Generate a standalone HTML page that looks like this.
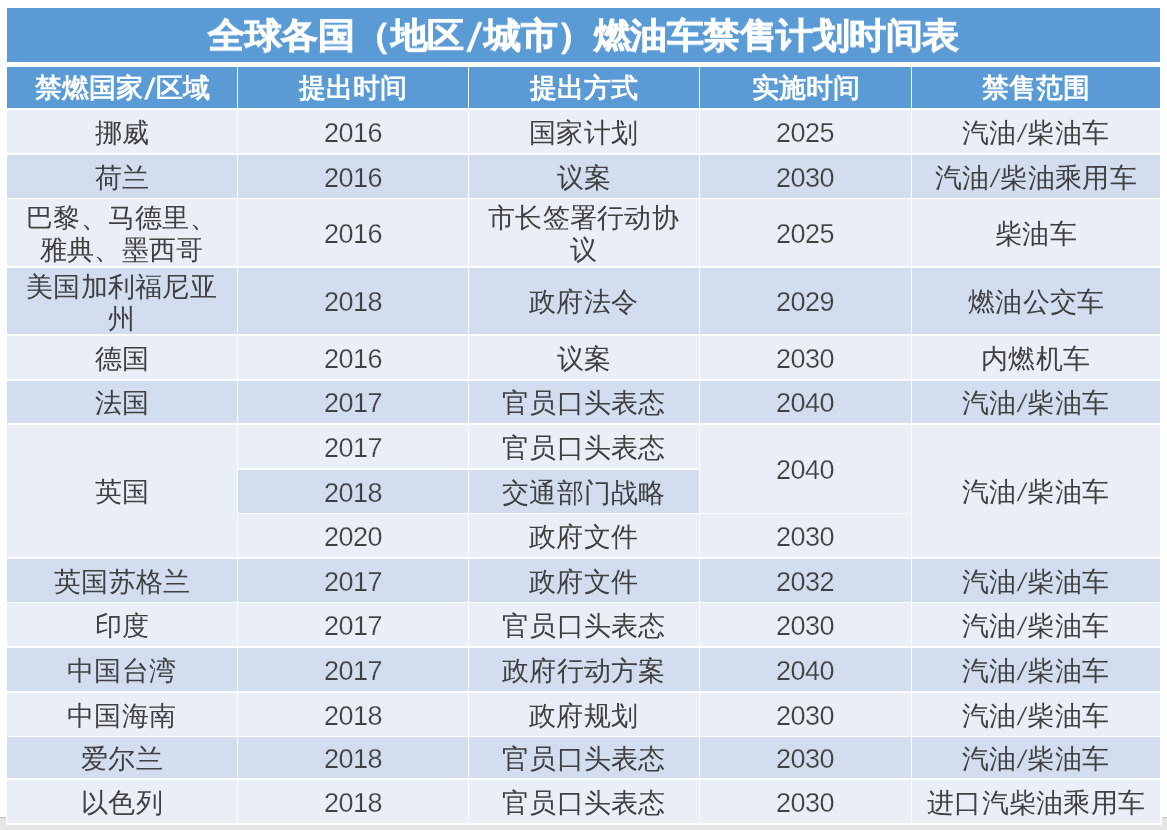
<!DOCTYPE html>
<html><head><meta charset="utf-8"><style>
html,body{margin:0;padding:0;}
span{will-change:transform;}
body{width:1167px;height:830px;position:relative;overflow:hidden;background:#fff;font-family:"Liberation Sans",sans-serif;}
.gray{position:absolute;left:0;top:817px;width:1167px;height:13px;background:#E5E5E5;border-top:1px solid #C4C4C4;box-sizing:border-box;}
.paper{position:absolute;left:6px;top:0;width:1156px;height:825px;background:#fff;}
.c,.h,.t{position:absolute;display:flex;align-items:center;justify-content:center;text-align:center;box-sizing:border-box;}
.c{color:#404040;font-size:27px;line-height:31.5px;padding-top:4px;letter-spacing:0.3px;}
.c i,.h i,.t i{font-style:normal;margin:0 1.5px;display:inline-block;transform:skewX(-11deg) scaleY(0.95);}
.c i{-webkit-text-stroke:0.3px var(--bg);}
.h i{margin:0 2.5px;transform:translateY(1px) skewX(-12deg) scaleY(1.1);}
.t i{margin:0 5.5px;transform:translateY(2px) skewX(-12deg) scaleY(1.15);-webkit-text-stroke:0;}
.d{letter-spacing:-0.5px;font-weight:normal;-webkit-text-stroke:0.25px var(--bg);position:relative;top:0px;}
.h{color:#fff;font-size:27px;font-weight:700;line-height:32px;}
.t{color:#fff;letter-spacing:-0.5px;font-size:37px;font-weight:700;-webkit-text-stroke:0.8px #fff;padding-top:2px;line-height:40px;}
.t span{display:inline-block;transform:scaleY(0.95);}
</style></head><body>
<div class="gray"></div>
<div class="paper"></div>
<div class="t" style="left:7px;top:8px;width:1153px;height:54px;--bg:#5B9BD5;background:#5B9BD5"><span>全球各国（地区<i>/</i>城市）燃油车禁售计划时间表</span></div>
<div class="h" style="left:7px;top:67px;width:230px;height:41px;--bg:#5B9BD5;background:#5B9BD5"><span>禁燃国家<i>/</i>区域</span></div>
<div class="h" style="left:238px;top:67px;width:230px;height:41px;--bg:#5B9BD5;background:#5B9BD5"><span>提出时间</span></div>
<div class="h" style="left:469px;top:67px;width:230px;height:41px;--bg:#5B9BD5;background:#5B9BD5"><span>提出方式</span></div>
<div class="h" style="left:700px;top:67px;width:211px;height:41px;--bg:#5B9BD5;background:#5B9BD5"><span>实施时间</span></div>
<div class="h" style="left:912px;top:67px;width:248px;height:41px;--bg:#5B9BD5;background:#5B9BD5"><span>禁售范围</span></div>
<div class="c" style="left:7px;top:110px;width:230px;height:43px;--bg:#EAEFF7;background:#EAEFF7"><span>挪威</span></div>
<div class="c" style="left:238px;top:110px;width:230px;height:43px;--bg:#EAEFF7;background:#EAEFF7"><span><b class="d" >2016</b></span></div>
<div class="c" style="left:469px;top:110px;width:230px;height:43px;--bg:#EAEFF7;background:#EAEFF7"><span>国家计划</span></div>
<div class="c" style="left:700px;top:110px;width:211px;height:43px;--bg:#EAEFF7;background:#EAEFF7"><span><b class="d" >2025</b></span></div>
<div class="c" style="left:912px;top:110px;width:248px;height:43px;--bg:#EAEFF7;background:#EAEFF7"><span>汽油<i>/</i>柴油车</span></div>
<div class="c" style="left:7px;top:155px;width:230px;height:43px;--bg:#D2DEEF;background:#D2DEEF"><span>荷兰</span></div>
<div class="c" style="left:238px;top:155px;width:230px;height:43px;--bg:#D2DEEF;background:#D2DEEF"><span><b class="d" >2016</b></span></div>
<div class="c" style="left:469px;top:155px;width:230px;height:43px;--bg:#D2DEEF;background:#D2DEEF"><span>议案</span></div>
<div class="c" style="left:700px;top:155px;width:211px;height:43px;--bg:#D2DEEF;background:#D2DEEF"><span><b class="d" >2030</b></span></div>
<div class="c" style="left:912px;top:155px;width:248px;height:43px;--bg:#D2DEEF;background:#D2DEEF"><span>汽油<i>/</i>柴油乘用车</span></div>
<div class="c" style="left:7px;top:199px;width:230px;height:67px;--bg:#EAEFF7;background:#EAEFF7"><span>巴黎、马德里、<br>雅典、墨西哥</span></div>
<div class="c" style="left:238px;top:199px;width:230px;height:67px;--bg:#EAEFF7;background:#EAEFF7"><span><b class="d" >2016</b></span></div>
<div class="c" style="left:469px;top:199px;width:230px;height:67px;--bg:#EAEFF7;background:#EAEFF7"><span>市长签署行动协<br>议</span></div>
<div class="c" style="left:700px;top:199px;width:211px;height:67px;--bg:#EAEFF7;background:#EAEFF7"><span><b class="d" >2025</b></span></div>
<div class="c" style="left:912px;top:199px;width:248px;height:67px;--bg:#EAEFF7;background:#EAEFF7"><span>柴油车</span></div>
<div class="c" style="left:7px;top:268px;width:230px;height:66px;--bg:#D2DEEF;background:#D2DEEF"><span>美国加利福尼亚<br>州</span></div>
<div class="c" style="left:238px;top:268px;width:230px;height:66px;--bg:#D2DEEF;background:#D2DEEF"><span><b class="d" >2018</b></span></div>
<div class="c" style="left:469px;top:268px;width:230px;height:66px;--bg:#D2DEEF;background:#D2DEEF"><span>政府法令</span></div>
<div class="c" style="left:700px;top:268px;width:211px;height:66px;--bg:#D2DEEF;background:#D2DEEF"><span><b class="d" >2029</b></span></div>
<div class="c" style="left:912px;top:268px;width:248px;height:66px;--bg:#D2DEEF;background:#D2DEEF"><span>燃油公交车</span></div>
<div class="c" style="left:7px;top:336px;width:230px;height:43px;--bg:#EAEFF7;background:#EAEFF7"><span>德国</span></div>
<div class="c" style="left:238px;top:336px;width:230px;height:43px;--bg:#EAEFF7;background:#EAEFF7"><span><b class="d" >2016</b></span></div>
<div class="c" style="left:469px;top:336px;width:230px;height:43px;--bg:#EAEFF7;background:#EAEFF7"><span>议案</span></div>
<div class="c" style="left:700px;top:336px;width:211px;height:43px;--bg:#EAEFF7;background:#EAEFF7"><span><b class="d" >2030</b></span></div>
<div class="c" style="left:912px;top:336px;width:248px;height:43px;--bg:#EAEFF7;background:#EAEFF7"><span>内燃机车</span></div>
<div class="c" style="left:7px;top:381px;width:230px;height:42px;--bg:#D2DEEF;background:#D2DEEF"><span>法国</span></div>
<div class="c" style="left:238px;top:381px;width:230px;height:42px;--bg:#D2DEEF;background:#D2DEEF"><span><b class="d" >2017</b></span></div>
<div class="c" style="left:469px;top:381px;width:230px;height:42px;--bg:#D2DEEF;background:#D2DEEF"><span>官员口头表态</span></div>
<div class="c" style="left:700px;top:381px;width:211px;height:42px;--bg:#D2DEEF;background:#D2DEEF"><span><b class="d" >2040</b></span></div>
<div class="c" style="left:912px;top:381px;width:248px;height:42px;--bg:#D2DEEF;background:#D2DEEF"><span>汽油<i>/</i>柴油车</span></div>
<div class="c" style="left:7px;top:425px;width:230px;height:132px;--bg:#EAEFF7;background:#EAEFF7"><span>英国</span></div>
<div class="c" style="left:238px;top:425px;width:230px;height:43px;--bg:#EAEFF7;background:#EAEFF7"><span><b class="d" >2017</b></span></div>
<div class="c" style="left:469px;top:425px;width:230px;height:43px;--bg:#EAEFF7;background:#EAEFF7"><span>官员口头表态</span></div>
<div class="c" style="left:238px;top:470px;width:230px;height:43px;--bg:#D2DEEF;background:#D2DEEF"><span><b class="d" >2018</b></span></div>
<div class="c" style="left:469px;top:470px;width:230px;height:43px;--bg:#D2DEEF;background:#D2DEEF"><span>交通部门战略</span></div>
<div class="c" style="left:238px;top:514px;width:230px;height:43px;--bg:#EAEFF7;background:#EAEFF7"><span><b class="d" >2020</b></span></div>
<div class="c" style="left:469px;top:514px;width:230px;height:43px;--bg:#EAEFF7;background:#EAEFF7"><span>政府文件</span></div>
<div class="c" style="left:700px;top:425px;width:211px;height:88px;--bg:#EAEFF7;background:#EAEFF7"><span><b class="d" >2040</b></span></div>
<div class="c" style="left:700px;top:514px;width:211px;height:43px;--bg:#EAEFF7;background:#EAEFF7"><span><b class="d" >2030</b></span></div>
<div class="c" style="left:912px;top:425px;width:248px;height:132px;--bg:#EAEFF7;background:#EAEFF7"><span>汽油<i>/</i>柴油车</span></div>
<div class="c" style="left:7px;top:559px;width:230px;height:43px;--bg:#D2DEEF;background:#D2DEEF"><span>英国苏格兰</span></div>
<div class="c" style="left:238px;top:559px;width:230px;height:43px;--bg:#D2DEEF;background:#D2DEEF"><span><b class="d" >2017</b></span></div>
<div class="c" style="left:469px;top:559px;width:230px;height:43px;--bg:#D2DEEF;background:#D2DEEF"><span>政府文件</span></div>
<div class="c" style="left:700px;top:559px;width:211px;height:43px;--bg:#D2DEEF;background:#D2DEEF"><span><b class="d" >2032</b></span></div>
<div class="c" style="left:912px;top:559px;width:248px;height:43px;--bg:#D2DEEF;background:#D2DEEF"><span>汽油<i>/</i>柴油车</span></div>
<div class="c" style="left:7px;top:603px;width:230px;height:43px;--bg:#EAEFF7;background:#EAEFF7"><span>印度</span></div>
<div class="c" style="left:238px;top:603px;width:230px;height:43px;--bg:#EAEFF7;background:#EAEFF7"><span><b class="d" >2017</b></span></div>
<div class="c" style="left:469px;top:603px;width:230px;height:43px;--bg:#EAEFF7;background:#EAEFF7"><span>官员口头表态</span></div>
<div class="c" style="left:700px;top:603px;width:211px;height:43px;--bg:#EAEFF7;background:#EAEFF7"><span><b class="d" >2030</b></span></div>
<div class="c" style="left:912px;top:603px;width:248px;height:43px;--bg:#EAEFF7;background:#EAEFF7"><span>汽油<i>/</i>柴油车</span></div>
<div class="c" style="left:7px;top:648px;width:230px;height:43px;--bg:#D2DEEF;background:#D2DEEF"><span>中国台湾</span></div>
<div class="c" style="left:238px;top:648px;width:230px;height:43px;--bg:#D2DEEF;background:#D2DEEF"><span><b class="d" >2017</b></span></div>
<div class="c" style="left:469px;top:648px;width:230px;height:43px;--bg:#D2DEEF;background:#D2DEEF"><span>政府行动方案</span></div>
<div class="c" style="left:700px;top:648px;width:211px;height:43px;--bg:#D2DEEF;background:#D2DEEF"><span><b class="d" >2040</b></span></div>
<div class="c" style="left:912px;top:648px;width:248px;height:43px;--bg:#D2DEEF;background:#D2DEEF"><span>汽油<i>/</i>柴油车</span></div>
<div class="c" style="left:7px;top:693px;width:230px;height:43px;--bg:#EAEFF7;background:#EAEFF7"><span>中国海南</span></div>
<div class="c" style="left:238px;top:693px;width:230px;height:43px;--bg:#EAEFF7;background:#EAEFF7"><span><b class="d" >2018</b></span></div>
<div class="c" style="left:469px;top:693px;width:230px;height:43px;--bg:#EAEFF7;background:#EAEFF7"><span>政府规划</span></div>
<div class="c" style="left:700px;top:693px;width:211px;height:43px;--bg:#EAEFF7;background:#EAEFF7"><span><b class="d" >2030</b></span></div>
<div class="c" style="left:912px;top:693px;width:248px;height:43px;--bg:#EAEFF7;background:#EAEFF7"><span>汽油<i>/</i>柴油车</span></div>
<div class="c" style="left:7px;top:737px;width:230px;height:41px;--bg:#D2DEEF;background:#D2DEEF"><span>爱尔兰</span></div>
<div class="c" style="left:238px;top:737px;width:230px;height:41px;--bg:#D2DEEF;background:#D2DEEF"><span><b class="d" >2018</b></span></div>
<div class="c" style="left:469px;top:737px;width:230px;height:41px;--bg:#D2DEEF;background:#D2DEEF"><span>官员口头表态</span></div>
<div class="c" style="left:700px;top:737px;width:211px;height:41px;--bg:#D2DEEF;background:#D2DEEF"><span><b class="d" >2030</b></span></div>
<div class="c" style="left:912px;top:737px;width:248px;height:41px;--bg:#D2DEEF;background:#D2DEEF"><span>汽油<i>/</i>柴油车</span></div>
<div class="c" style="left:7px;top:780px;width:230px;height:43px;--bg:#EAEFF7;background:#EAEFF7"><span>以色列</span></div>
<div class="c" style="left:238px;top:780px;width:230px;height:43px;--bg:#EAEFF7;background:#EAEFF7"><span><b class="d" >2018</b></span></div>
<div class="c" style="left:469px;top:780px;width:230px;height:43px;--bg:#EAEFF7;background:#EAEFF7"><span>官员口头表态</span></div>
<div class="c" style="left:700px;top:780px;width:211px;height:43px;--bg:#EAEFF7;background:#EAEFF7"><span><b class="d" >2030</b></span></div>
<div class="c" style="left:912px;top:780px;width:248px;height:43px;--bg:#EAEFF7;background:#EAEFF7"><span>进口汽柴油乘用车</span></div>
</body></html>
